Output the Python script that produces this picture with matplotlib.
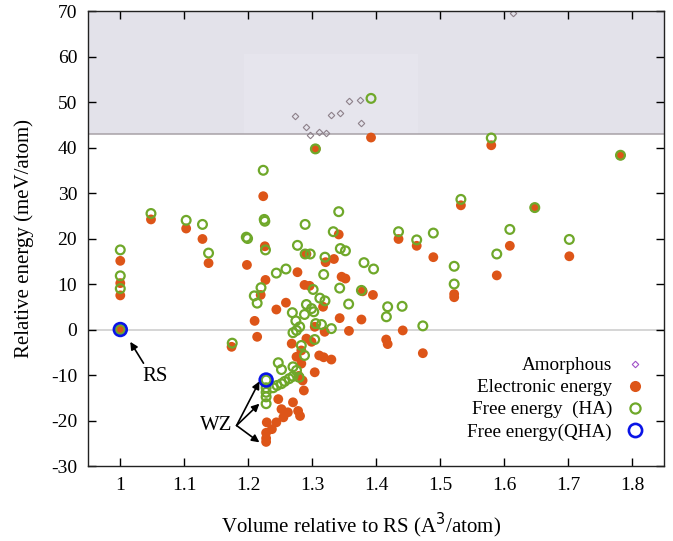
import matplotlib
matplotlib.use("Agg")
import matplotlib.pyplot as plt
from matplotlib.lines import Line2D
from matplotlib.patches import Rectangle

plt.rcParams['font.family'] = ['Liberation Serif', 'DejaVu Serif']
plt.rcParams['font.size'] = 13
plt.rcParams['axes.unicode_minus'] = False

# ---------------- data ----------------
amorph_x = [1.273, 1.290, 1.297, 1.311, 1.322, 1.329, 1.344, 1.357, 1.374, 1.377, 1.614]
amorph_y = [47.0, 44.5, 42.8, 43.4, 43.2, 47.1, 47.6, 50.2, 50.5, 45.3, 69.6]

elec_x = [1.0, 1.0, 1.0, 1.0, 1.048, 1.103, 1.1285, 1.138, 1.174, 1.198,
          1.210, 1.214, 1.2195, 1.2235, 1.226, 1.227, 1.244, 1.259, 1.277, 1.291,
          1.288, 1.296, 1.3055, 1.3415, 1.321, 1.334, 1.346, 1.352, 1.379, 1.395,
          1.392, 1.317, 1.343, 1.377, 1.304, 1.3195, 1.3575, 1.291, 1.299, 1.268,
          1.283, 1.2755, 1.311, 1.318, 1.330, 1.283, 1.304, 1.279, 1.285, 1.287,
          1.247, 1.270, 1.278, 1.281, 1.252, 1.262, 1.255, 1.244, 1.237, 1.229,
          1.228, 1.228, 1.228, 1.4416, 1.4157, 1.418, 1.473, 1.435, 1.4634, 1.4894,
          1.522, 1.522, 1.5325, 1.580, 1.5886, 1.609, 1.648, 1.702, 1.782]
elec_y = [15.1, 10.2, 7.5, 0.0, 24.2, 22.2, 19.9, 14.6, -3.8, 14.2,
          1.9, -1.6, 7.6, 29.3, 18.3, 10.9, 4.4, 5.9, 12.6, 16.6,
          9.8, 9.6, 39.7, 20.9, 14.8, 15.5, 11.6, 11.2, 8.4, 7.6,
          42.2, 5.0, 2.5, 2.2, 0.6, -0.5, -0.3, -2.0, -2.7, -3.1,
          -4.6, -6.0, -5.7, -6.1, -6.6, -7.5, -9.4, -10.2, -11.2, -13.4,
          -15.3, -16.0, -17.9, -19.0, -17.5, -18.2, -19.3, -20.4, -21.9, -20.4,
          -22.7, -23.9, -24.7, -0.2, -2.2, -3.2, -5.2, 19.9, 18.4, 15.9,
          7.8, 7.1, 27.3, 40.5, 11.9, 18.4, 26.8, 16.1, 38.3]

ha_x = [1.0, 1.0, 1.0, 1.0, 1.048, 1.103, 1.1285, 1.138, 1.175, 1.197,
        1.199, 1.2095, 1.214, 1.220, 1.2235, 1.225, 1.226, 1.227, 1.244, 1.259,
        1.277, 1.289, 1.289, 1.297, 1.305, 1.318, 1.320, 1.333, 1.3415, 1.344,
        1.352, 1.381, 1.396, 1.392, 1.3015, 1.343, 1.377, 1.357, 1.312, 1.320,
        1.291, 1.299, 1.3025, 1.269, 1.288, 1.2745, 1.3055, 1.3145, 1.330, 1.2805,
        1.2755, 1.270, 1.304, 1.283, 1.288, 1.247, 1.252, 1.270, 1.2755, 1.2796,
        1.228, 1.228, 1.228, 1.228, 1.228, 1.239, 1.245, 1.252, 1.257, 1.264,
        1.270, 1.418, 1.416, 1.4406, 1.473, 1.435, 1.4634, 1.4894, 1.522, 1.522,
        1.5325, 1.580, 1.5886, 1.609, 1.648, 1.702, 1.782]
ha_y = [17.5, 11.8, 9.0, 0.0, 25.5, 24.0, 23.1, 16.8, -3.0, 20.3,
        20.0, 7.4, 5.8, 9.2, 35.0, 24.2, 23.8, 17.5, 12.4, 13.3,
        18.5, 23.1, 16.6, 16.6, 39.7, 12.1, 15.9, 21.5, 25.9, 17.8,
        17.3, 14.7, 13.3, 50.8, 8.8, 9.1, 8.6, 5.6, 6.9, 6.3,
        5.5, 4.6, 3.9, 3.7, 3.3, 1.9, 1.3, 1.1, 0.2, 0.6,
        -0.2, -0.7, -2.2, -3.5, -5.7, -7.3, -8.8, -8.2, -9.0, -10.5,
        -11.1, -12.8, -13.8, -14.8, -16.3, -12.8, -12.3, -11.9, -11.4, -10.8,
        -10.3, 5.0, 2.8, 5.1, 0.8, 21.5, 19.7, 21.2, 13.9, 10.0,
        28.6, 42.1, 16.6, 22.0, 26.8, 19.8, 38.3]

qha_x = [1.0, 1.228]
qha_y = [0.0, -11.1]

xticks = [1.0, 1.1, 1.2, 1.3, 1.4, 1.5, 1.6, 1.7, 1.8]
xtick_labels = ['1', '1.1', '1.2', '1.3', '1.4', '1.5', '1.6', '1.7', '1.8']
yticks = [-30, -20, -10, 0, 10, 20, 30, 40, 50, 60, 70]

# ---------------- figure ----------------
fig = plt.figure(figsize=(6.73, 5.41), dpi=100)
ax = fig.add_axes([0.1312, 0.1386, 0.8554, 0.8410])
ax.set_xlim(0.95, 1.85)
ax.set_ylim(-30, 70)

# shaded band above 43 meV/atom
ax.axhspan(43, 70, facecolor='#e3e2ea', edgecolor='none', zorder=0)
ax.add_patch(Rectangle((1.193, 43), 0.272, 17.5, facecolor='#e6e5ed',
                       edgecolor='none', zorder=0.5))
ax.axhline(43, color='#a8a2a7', lw=1.1, zorder=1)
ax.axhline(0, color='#cacaca', lw=1.1, zorder=1)

ax.plot(amorph_x, amorph_y, linestyle='none', marker='D', ms=3.3,
        mfc='none', mec='#8d8089', mew=0.8, zorder=2)
ax.scatter(elec_x, elec_y, s=50, c='#dd5518', edgecolors='none', zorder=3)
ax.scatter(ha_x, ha_y, s=40, facecolors='none', edgecolors='#6fa82a',
           linewidths=1.6, zorder=4)
ax.scatter(qha_x, qha_y, s=85, facecolors='none', edgecolors='#0a14e6',
           linewidths=1.9, zorder=5)

# annotations
arrow_kw = dict(arrowstyle='-|>', color='black', lw=1.2, shrinkA=0, shrinkB=0,
                mutation_scale=11)
ax.annotate('', xy=(1.0156, -2.7), xytext=(1.0363, -7.4), arrowprops=arrow_kw, zorder=6)
ax.text(1.0545, -10.3, 'RS', ha='center', va='center', fontsize=15)
ax.text(1.1495, -21.0, 'WZ', ha='center', va='center', fontsize=15)
for ye in (-11.4, -16.3, -24.8):
    ax.annotate('', xy=(1.2175, ye), xytext=(1.1818, -21.1), arrowprops=arrow_kw, zorder=6)

# ticks
ax.set_xticks(xticks)
ax.set_xticklabels(xtick_labels)
ax.set_yticks(yticks)
ax.tick_params(direction='in', length=6, width=1.0, top=True, right=True, pad=8,
               labelsize=14)
for sp in ax.spines.values():
    sp.set_linewidth(1.0)
    sp.set_color('#222222')

ax.set_xlabel('Volume relative to RS (A$^{3}$/atom)', fontsize=15)
ax.xaxis.set_label_coords(0.474, -0.098)
ax.set_ylabel('Relative energy (meV/atom)', fontsize=15, labelpad=12)

# legend
handles = [
    Line2D([], [], linestyle='none', marker='D', ms=3.3, mfc='none', mec='#a050c8', mew=0.8),
    Line2D([], [], linestyle='none', marker='o', ms=8, mfc='#dd5518', mec='none'),
    Line2D([], [], linestyle='none', marker='o', ms=7.3, mfc='none', mec='#6fa82a', mew=1.6),
    Line2D([], [], linestyle='none', marker='o', ms=9.5, mfc='none', mec='#0a14e6', mew=1.9),
]
labels = ['Amorphous', 'Electronic energy', 'Free energy  (HA)', 'Free energy(QHA)']
ax.legend(handles, labels, loc='lower right', bbox_to_anchor=(0.983, 0.035),
          frameon=False, markerfirst=False, handlelength=1.0, handletextpad=0.7,
          labelspacing=0.24, borderpad=0, fontsize=13.8)

fig.savefig('out.png', dpi=100)
